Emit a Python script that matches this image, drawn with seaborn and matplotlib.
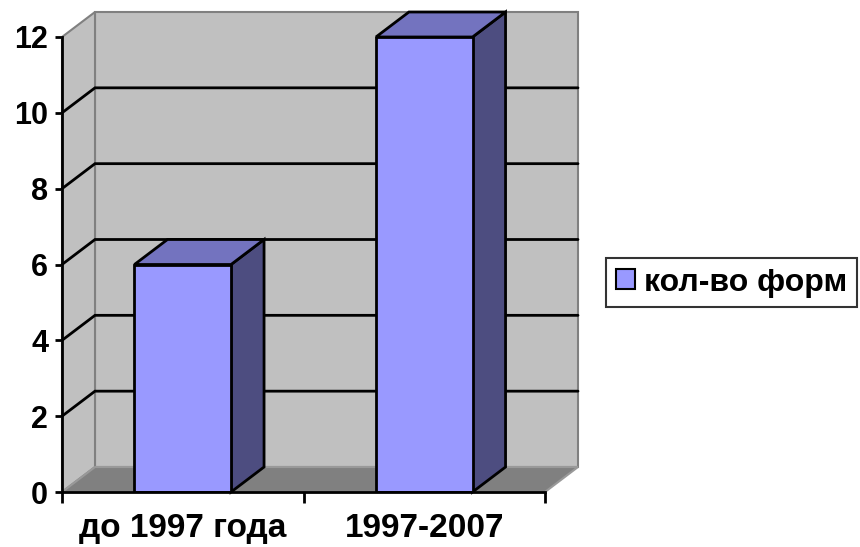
import matplotlib
matplotlib.use('Agg')
import matplotlib.pyplot as plt
import seaborn as sns
import pandas as pd
from matplotlib.patches import Polygon, Patch

categories = ["до 1997 года", "1997-2007"]
values = [6, 12]
series_name = "кол-во форм"
y_ticks = [0, 2, 4, 6, 8, 10, 12]

sns.set_theme(style='white')
plt.rcParams['font.family'] = ['Liberation Sans', 'DejaVu Sans']
plt.rcParams['font.weight'] = 'bold'
for k in ['text.color', 'axes.labelcolor', 'xtick.color', 'ytick.color']:
    plt.rcParams[k] = 'black'

FRONT = '#9999FF'
TOP = '#7373BF'
SIDE = '#4D4D80'
WALL = '#C0C0C0'
FLOOR = '#808080'
EDGE = '#808080'

W, H = 860, 547
fig = plt.figure(figsize=(W / 100, H / 100), dpi=100)
fig.patch.set_facecolor('white')
L, R, T, B = 62, 545, 37, 492
ax = fig.add_axes([L / W, 1 - B / H, (R - L) / W, (B - T) / H])
ax.set_facecolor('none')

df = pd.DataFrame({'cat': categories, 'val': values})
sns.barplot(data=df, x='cat', y='val', color=FRONT, saturation=1, width=0.4,
            edgecolor='black', linewidth=2, ax=ax, zorder=5)
bars = list(ax.patches)

ymax = y_ticks[-1]
ax.set_xlim(-0.5, len(categories) - 0.5)
ax.set_ylim(0, ymax)
x0, x1 = ax.get_xlim()

# depth offsets (in data units) for the 3D look
dx = 33 / (R - L) * (x1 - x0)
dy = 25 / (B - T) * ymax

def poly(pts, fc, ec, lw, z):
    p = Polygon(pts, closed=True, facecolor=fc, edgecolor=ec, linewidth=lw,
                zorder=z, clip_on=False, joinstyle='miter')
    ax.add_patch(p)

# walls and floor
poly([(x0 + dx, dy), (x1 + dx, dy), (x1 + dx, ymax + dy), (x0 + dx, ymax + dy)], WALL, EDGE, 1.5, 0.5)
poly([(x0, 0), (x0 + dx, dy), (x0 + dx, ymax + dy), (x0, ymax)], WALL, EDGE, 1.5, 0.6)
poly([(x0, 0), (x1, 0), (x1 + dx, dy), (x0 + dx, dy)], FLOOR, '#999999', 1.5, 0.7)

# gridlines on side and back walls
for t in y_ticks[1:-1]:
    ax.plot([x0, x0 + dx, x1 + dx], [t, t + dy, t + dy], color='black', lw=2,
            clip_on=False, zorder=1, solid_joinstyle='miter')

# 3D bar faces
for p in bars:
    bx, bw, bh = p.get_x(), p.get_width(), p.get_height()
    poly([(bx + bw, 0), (bx + bw + dx, dy), (bx + bw + dx, bh + dy), (bx + bw, bh)], SIDE, 'black', 2, 4)
    poly([(bx, bh), (bx + bw, bh), (bx + bw + dx, bh + dy), (bx + dx, bh + dy)], TOP, 'black', 2, 4)

# axes styling
for s in ['top', 'right']:
    ax.spines[s].set_visible(False)
for s in ['left', 'bottom']:
    ax.spines[s].set_color('black')
    ax.spines[s].set_linewidth(2)
    ax.spines[s].set_zorder(6)
ax.set_xlabel('')
ax.set_ylabel('')

ax.set_yticks(y_ticks)
ax.set_yticklabels([str(v) for v in y_ticks], fontsize=22, fontweight='bold')
ax.tick_params(axis='y', length=5, width=2, color='black', pad=5, direction='out', left=True)

ax.set_xticks([x0 + i for i in range(len(categories) + 1)])
ax.set_xticklabels([''] * (len(categories) + 1))
ax.set_xticks(list(range(len(categories))), minor=True)
ax.set_xticklabels(categories, minor=True, fontsize=24, fontweight='bold')
ax.tick_params(axis='x', which='major', length=8, width=2, color='black', direction='out', bottom=True)
ax.tick_params(axis='x', which='minor', length=0, pad=15)

handle = Patch(facecolor=FRONT, edgecolor='black', linewidth=1.5)
leg = fig.legend([handle], [series_name], loc='center left',
                 bbox_to_anchor=(606 / W, 1 - 282.5 / H), borderaxespad=0,
                 frameon=True, fancybox=False,
                 edgecolor='black', prop={'weight': 'bold', 'size': 23},
                 handlelength=0.6, handleheight=0.6, handletextpad=0.28, borderpad=0.3)
leg.get_frame().set_linewidth(1.5)

fig.savefig('out.png', dpi=100, facecolor='white')
